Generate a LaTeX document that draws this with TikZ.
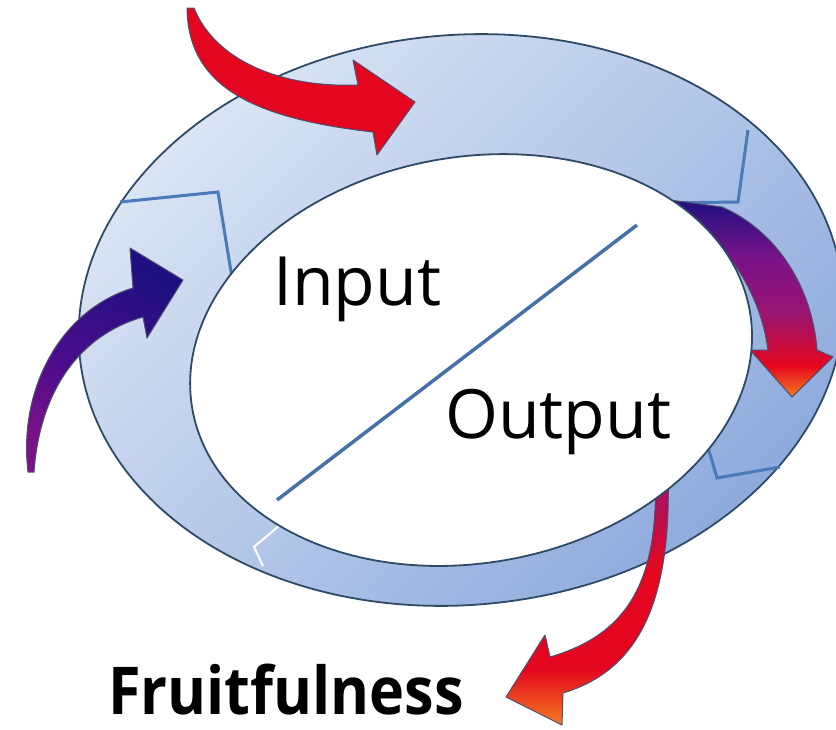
\documentclass[tikz,border=0pt]{standalone}
\usepackage{fontspec}
\usepackage{graphicx}
\setmainfont{Open Sans}
\definecolor{ringlight}{HTML}{DCE6F5}
\definecolor{ringdark}{HTML}{8CA9DC}
\definecolor{rimline}{HTML}{2E4A66}
\definecolor{seam}{HTML}{4A7AB8}
\definecolor{slash}{HTML}{4472A8}
\definecolor{tipedge}{HTML}{4E4E70}
\definecolor{navy}{HTML}{1E1080}
\definecolor{indigo}{HTML}{4A0C8C}
\definecolor{plum}{HTML}{7A1288}
\definecolor{berry}{HTML}{9A1470}
\definecolor{crim}{HTML}{E4061E}
\definecolor{amber}{HTML}{F47B20}
\pgfdeclareverticalshading{fallred}{100bp}{color(0bp)=(amber); color(25bp)=(amber); color(33bp)=(crim); color(62bp)=(crim); color(75bp)=(berry); color(100bp)=(berry)}
\pgfdeclareverticalshading{riseblue}{100bp}{color(0bp)=(plum); color(25bp)=(plum); color(45bp)=(indigo); color(75bp)=(navy); color(100bp)=(navy)}
\pgfdeclareverticalshading{dropdeep}{100bp}{color(0bp)=(amber); color(25bp)=(amber); color(33bp)=(crim); color(46bp)=(berry); color(60bp)=(plum); color(75bp)=(navy); color(100bp)=(navy)}
\pgfdeclareverticalshading{fallberry}{100bp}{color(0bp)=(amber); color(25bp)=(amber); color(36bp)=(crim); color(55bp)=(crim); color(75bp)=(berry); color(100bp)=(berry)}
\tikzset{
  ringedge/.style={draw=rimline,line width=1.8pt},
  seamline/.style={seam,line width=3pt},
  flowarrow/.style={draw=tipedge,line width=1pt,line join=round},
  label/.style={anchor=base west,inner sep=0pt,font=\fontsize{68}{68}\selectfont}
}
\begin{document}
\begin{tikzpicture}[x=1pt,y=-1pt]
\useasboundingbox (0,0) rectangle (836,729);
\coordinate (outerc) at (461,320);
\coordinate (innerc) at (471,360);
% ring
\shade[ringedge,top color=ringlight,bottom color=ringdark,shading angle=45,rotate around={5:(outerc)}]
  (outerc) ellipse [x radius=383pt,y radius=285pt];
\draw[seamline] (120,202) -- (218,192) -- (234,290);
\draw[seamline] (748,130) -- (738,202) -- (660,203);
\draw[seamline] (700,420) -- (717,478) -- (780,467);
\draw[white,line width=2pt] (280,525) -- (254,547) -- (263,566);
% arrows
\shadedraw[flowarrow,shading=fallred,shading angle=-20]
  (187,8) .. controls (188,85) and (250,118) .. (373,132) -- (377,155) -- (415,102) -- (353,60) -- (358,85)
  .. controls (280,88) and (215,60) .. (194,8) -- cycle;
\shadedraw[flowarrow,shading=riseblue,shading angle=-30]
  (28,472) .. controls (18,390) and (60,310) .. (133,288) -- (130,248) -- (183,280) -- (147,338) -- (143,317)
  .. controls (80,335) and (40,390) .. (34,472) -- cycle;
\shadedraw[flowarrow,shading=dropdeep]
  (670,200) -- (722,207) .. controls (775,230) and (812,285) .. (817,350) -- (833,357) -- (792,397) -- (750,350) -- (768,350)
  .. controls (760,290) and (725,240) .. (670,200) -- cycle;
\shadedraw[flowarrow,shading=fallberry]
  (655,470) -- (668,470) .. controls (672,600) and (640,670) .. (563,693) -- (562,725) -- (506,697) -- (545,635) -- (550,657)
  .. controls (625,635) and (660,585) .. (655,470) -- cycle;
% inner part
\filldraw[ringedge,fill=white,rotate around={10:(innerc)}] (innerc) ellipse [x radius=283pt,y radius=203pt];
\coordinate (slashlo) at (277,500);
\coordinate (slashhi) at (637,225);
\draw[slash,line width=3.5pt] (slashlo) -- (slashhi);
\node[label] (input) at (273,305) {Input};
\node[label] (output) at (445,438) {Output};
\node[label,font=\bfseries\fontsize{66}{66}\selectfont] (fruit) at (108,714) {\scalebox{0.9}[1]{Fruitfulness}};
\end{tikzpicture}
\end{document}
